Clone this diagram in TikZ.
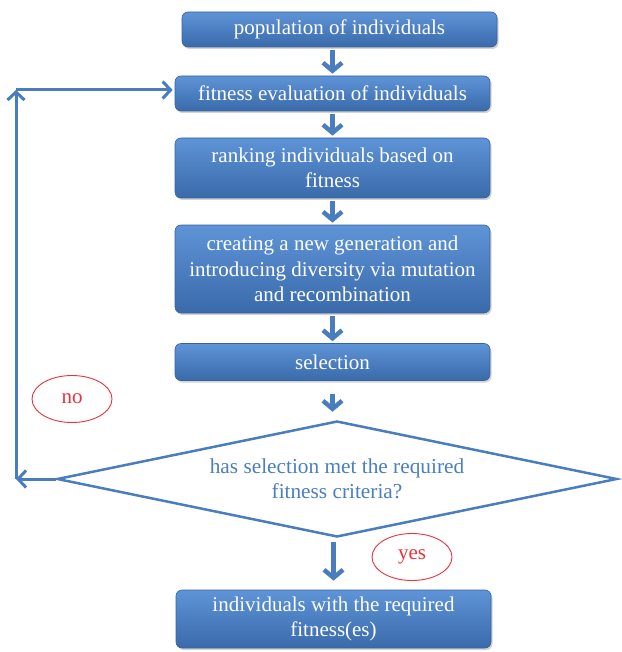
\documentclass[tikz,border=0pt]{standalone}
\usepackage{fontspec}
\setmainfont{Liberation Serif}
\usepackage{xcolor}
\usepackage{tikz}
\usetikzlibrary{arrows.meta, positioning, shapes.geometric, shadows}
\definecolor{gblue}{HTML}{4A7EC0}
\definecolor{gbluetop}{HTML}{5E94D7}
\definecolor{gbluebot}{HTML}{3A6AAA}
\definecolor{gblueedge}{HTML}{3563A0}
\definecolor{gline}{HTML}{4A7DBE}
\definecolor{gred}{HTML}{E8333A}

\begin{document}
\begin{tikzpicture}[x=1pt, y=-1pt,
  stagebox/.style={rectangle, rounded corners=6pt, draw=gblueedge, line width=0.6pt,
    top color=gbluetop, bottom color=gbluebot, text=white, align=center,
    minimum width=315pt, inner sep=2pt,
    font=\fontsize{21}{25.5}\selectfont,
    drop shadow={shadow xshift=1.5pt, shadow yshift=-2pt, opacity=.35}},
  flow/.style={draw=gline, line width=4.5pt,
    -{Straight Barb[length=8pt, width=19pt, line width=4.5pt]}},
  loopline/.style={draw=gline, line width=3pt,
    -{Straight Barb[length=8pt, width=17pt, line width=3pt]}},
  answer/.style={ellipse, draw=gred, line width=0.9pt, text=gred,
    minimum width=80pt, minimum height=47pt, inner sep=0pt,
    font=\fontsize{21}{25}\selectfont}]

  \useasboundingbox (0,0) rectangle (621,652);

  %% Stages
  \node[stagebox, minimum height=35pt] (pop) at (339.5,29.5) {population of individuals};
  \node[stagebox, minimum height=35pt] (fit) at (332.5,93.5) {fitness evaluation of individuals};
  \node[stagebox, minimum height=60pt] (rank) at (332.5,168) {ranking individuals based on\\fitness};
  \node[stagebox, minimum height=88pt] (gen) at (332.5,269) {creating a new generation and\\introducing diversity via mutation\\and recombination};
  \node[stagebox, minimum height=37pt] (sel) at (332.5,362) {selection};

  %% Decision
  \node[diamond, draw=gline, line width=2.5pt, aspect=4.83, inner sep=0pt,
    minimum width=560pt, minimum height=116pt, text=gblue, align=center,
    font=\fontsize{21.3}{25.5}\selectfont] (dec) at (337,479)
    {has selection met the required\\fitness criteria?};

  \node[stagebox, minimum height=58pt] (fin) at (333.5,619) {individuals with the required\\fitness(es)};

  %% Answers
  \node[answer] (no) at (72,399) {no};
  \node[answer] (yes) at (412,557) {yes};

  %% Flow
  \draw[flow, shorten <=3pt, shorten >=2pt] (fit.north |- pop.south) -- (fit.north);
  \draw[flow, shorten <=3pt, shorten >=2pt] (fit.south) -- (rank.north);
  \draw[flow, shorten <=3pt, shorten >=2pt] (rank.south) -- (gen.north);
  \draw[flow, shorten <=3pt, shorten >=2pt] (gen.south) -- (sel.north);
  \draw[flow, shorten <=13pt, shorten >=8pt] (sel.south) -- (sel.south |- dec.north);
  \draw[flow, shorten <=4pt, shorten >=9pt] (fin.north |- dec.south) -- (fin.north);

  %% Loop back
  \coordinate (bl) at (16,479);
  \coordinate (tl) at (16,90);
  \draw[loopline] (dec.west) -- (bl);
  \draw[loopline] (bl) -- (tl);
  \draw[loopline, shorten >=2pt] (tl) -- (tl -| fit.west);

\end{tikzpicture}
\end{document}
